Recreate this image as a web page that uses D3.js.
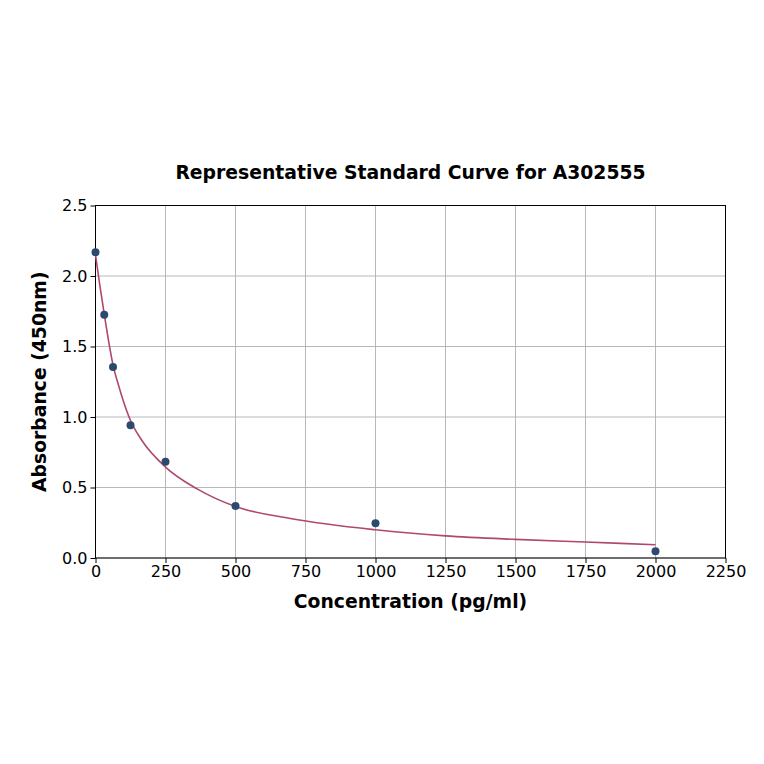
<!DOCTYPE html>
<html>
<head>
<meta charset="utf-8">
<script src="https://cdn.jsdelivr.net/npm/d3@7"></script>
<style>
  body { margin: 0; background: #fff; }
  text { font-family: "DejaVu Sans", sans-serif; }
</style>
</head>
<body>
<svg width="764" height="764"></svg>
<script>
// standard points
var concentrations = [0, 31.25, 62.5, 125, 250, 500, 1000, 2000]
var absorbance = [2.168, 1.726, 1.355, 0.942, 0.683, 0.369, 0.246, 0.047]

// fitted curve
var curveX = [0, 15, 31.25, 45, 62.5, 83, 100, 125, 167, 250, 363, 500, 696, 1000, 1250, 1500, 1750, 2000]
var curveY = [2.15, 1.94, 1.73, 1.56, 1.37, 1.22, 1.11, 0.975, 0.83, 0.645, 0.49, 0.365, 0.28, 0.20, 0.157, 0.132, 0.113, 0.094]

var xTicks = [0, 250, 500, 750, 1000, 1250, 1500, 1750, 2000, 2250]
var yTicks = [0, 0.5, 1.0, 1.5, 2.0, 2.5]

var plotLeft = 95.5, plotRight = 725.5, plotTop = 205.5, plotBottom = 558

var svg = d3.select('svg')

var x = d3.scaleLinear().domain([0, 2250]).range([plotLeft, plotRight])
var y = d3.scaleLinear().domain([0, 2.5]).range([plotBottom, plotTop])

// grid
svg.append('g')
    .selectAll('line')
    .data(xTicks)
    .enter()
    .append('line')
    .attr('x1', function(d){ return x(d) })
    .attr('x2', function(d){ return x(d) })
    .attr('y1', plotTop)
    .attr('y2', plotBottom)
    .style('stroke', '#b0b0b0')
    .style('stroke-width', 0.9)

svg.append('g')
    .selectAll('line')
    .data(yTicks)
    .enter()
    .append('line')
    .attr('x1', plotLeft)
    .attr('x2', plotRight)
    .attr('y1', function(d){ return y(d) })
    .attr('y2', function(d){ return y(d) })
    .style('stroke', '#b0b0b0')
    .style('stroke-width', 0.9)

// axes
var xAxis = svg.append('g')
    .attr('transform', 'translate(0,' + plotBottom + ')')
    .call(d3.axisBottom(x).tickValues(xTicks).tickSize(5).tickPadding(3).tickFormat(d3.format('d')))

var yAxis = svg.append('g')
    .attr('transform', 'translate(' + plotLeft + ',0)')
    .call(d3.axisLeft(y).tickValues(yTicks).tickSize(5).tickPadding(3).tickFormat(d3.format('.1f')))

;[xAxis, yAxis].forEach(function(a){
    a.select('.domain').remove()
    a.selectAll('line').style('stroke', '#000').style('stroke-width', 1)
    a.selectAll('text').style('font-size', '16px').style('fill', '#000').style('font-family', 'DejaVu Sans')
})

// frame
svg.append('rect')
    .attr('x', plotLeft)
    .attr('y', plotTop)
    .attr('width', plotRight - plotLeft)
    .attr('height', plotBottom - plotTop)
    .style('fill', 'none')
    .style('stroke', '#000')
    .style('stroke-width', 1)

// curve
var line = d3.line()
    .x(function(d){ return x(d[0]) })
    .y(function(d){ return y(d[1]) })
    .curve(d3.curveMonotoneX)

svg.append('path')
    .datum(d3.zip(curveX, curveY))
    .attr('d', line)
    .style('fill', 'none')
    .style('stroke', '#b0486e')
    .style('stroke-width', 1.6)

// points
svg.append('g')
    .selectAll('circle')
    .data(d3.zip(concentrations, absorbance))
    .enter()
    .append('circle')
    .attr('cx', function(d){ return x(d[0]) })
    .attr('cy', function(d){ return y(d[1]) })
    .attr('r', 4)
    .style('fill', '#2c4a6e')

// labels
svg.append('text')
    .attr('x', (plotLeft + plotRight) / 2)
    .attr('y', 179)
    .attr('text-anchor', 'middle')
    .style('font-size', '18.8px')
    .style('font-weight', 'bold')
    .text('Representative Standard Curve for A302555')

svg.append('text')
    .attr('x', (plotLeft + plotRight) / 2)
    .attr('y', 608)
    .attr('text-anchor', 'middle')
    .style('font-size', '18.8px')
    .style('font-weight', 'bold')
    .text('Concentration (pg/ml)')

svg.append('text')
    .attr('transform', 'translate(46,' + ((plotTop + plotBottom) / 2) + ') rotate(-90)')
    .attr('text-anchor', 'middle')
    .style('font-size', '18.8px')
    .style('font-weight', 'bold')
    .text('Absorbance (450nm)')
</script>
</body>
</html>
